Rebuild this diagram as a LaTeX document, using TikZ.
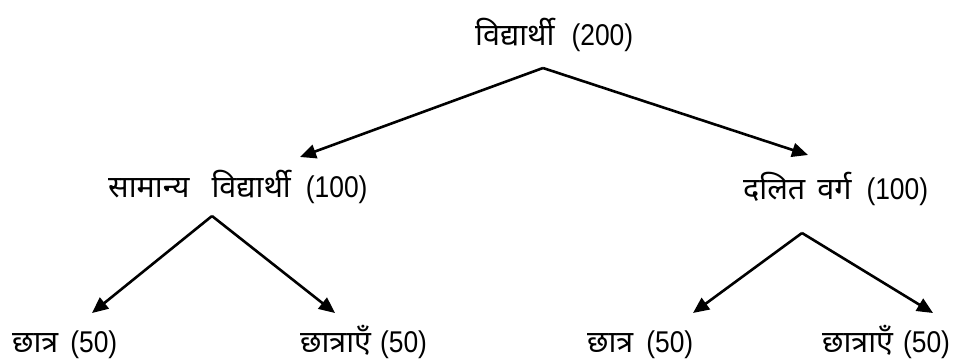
\documentclass[tikz,border=0pt]{standalone}
\usepackage{fontspec}
\setmainfont[Script=Devanagari]{Noto Sans}
\newfontfamily\latf[FakeStretch=0.88]{Liberation Sans}
\usetikzlibrary{arrows.meta}
\newcommand{\num}[2]{\hspace{#1}{\latf\fontsize{30}{32}\selectfont(#2)}}
\begin{document}
\begin{tikzpicture}[x=1pt,y=-1pt,
  lbl/.style={anchor=base west,inner sep=0pt,font=\fontsize{30.5}{32}\selectfont},
  arr/.style={line width=2.6pt,-{Triangle[length=16pt,width=14pt]},line join=miter}]
\useasboundingbox (0,0) rectangle (960,362);
\node[lbl] (top) at (475,45) {विद्यार्थी\num{17pt}{200}};
\node[lbl] (ml) at (108,197) {सामान्य\hspace{22pt}विद्यार्थी\num{15pt}{100}};
\node[lbl] (mr) at (743,199) {दलित\hspace{12pt}वर्ग\num{15pt}{100}};
\node[lbl] (b1) at (12,352) {छात्र\num{12pt}{50}};
\node[lbl] (b2) at (300,352) {छात्राएँ\num{9pt}{50}};
\node[lbl] (b3) at (587,352) {छात्र\num{13pt}{50}};
\node[lbl] (b4) at (822,352) {छात्राएँ\num{10pt}{50}};
\coordinate (a0) at (543,68);
\coordinate (t1) at (300,157);
\coordinate (t2) at (808,155);
\coordinate (a1) at (212,216);
\coordinate (t3) at (92,313);
\coordinate (t4) at (335,313);
\coordinate (a2) at (802,233);
\coordinate (t5) at (693,313);
\coordinate (t6) at (933,313);
\draw[arr] (a0) -- (t1);
\draw[arr] (a0) -- (t2);
\draw[arr] (a1) -- (t3);
\draw[arr] (a1) -- (t4);
\draw[arr] (a2) -- (t5);
\draw[arr] (a2) -- (t6);
\end{tikzpicture}
\end{document}
